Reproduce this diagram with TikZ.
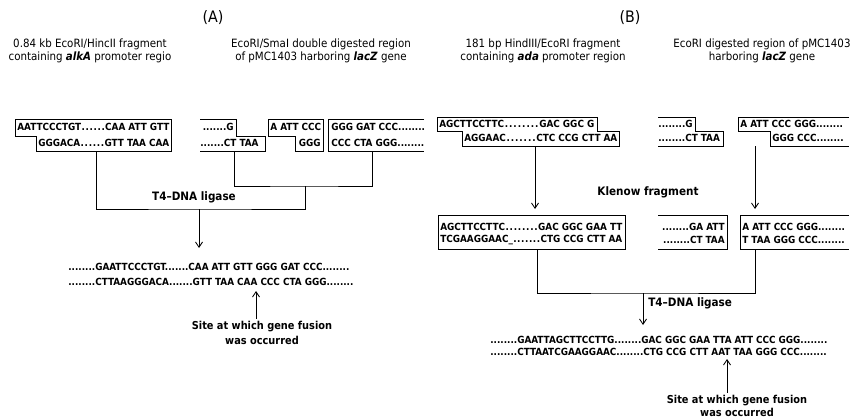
\documentclass[tikz,border=0pt]{standalone}
\usepackage{fontspec}
\setmainfont{DejaVu Sans Condensed}
\usetikzlibrary{arrows.meta}
\newcommand{\seqfont}{\fontsize{5.6}{6}\selectfont\bfseries}
\newcommand{\hdrfont}{\fontsize{6.5}{7.4}\selectfont}
\newcommand{\tagfont}{\fontsize{9}{10}\selectfont}
\newcommand{\stepfont}{\fontsize{6.6}{8}\selectfont\bfseries}
\newcommand{\dotgap}{\xleaders\hbox to 0.4em{\hss.\hss}\hfill}
\newcommand{\seqrow}[3]{\hbox to \dimexpr0.02cm*#1\relax{#2\dotgap #3}}
\tikzset{
  seq/.style={font=\seqfont,inner sep=0pt,anchor=west},
  seqr/.style={seq,anchor=east},
  hdr/.style={font=\hdrfont,inner sep=0pt,align=center},
  stepname/.style={font=\stepfont,inner sep=0pt},
  sitenote/.style={font=\fontsize{6.2}{8.5}\selectfont\bfseries,inner sep=0pt,align=center},
  frag/.style={line width=0.55pt},
  link/.style={line width=0.5pt},
  arr/.style={link,-{Straight Barb[length=3pt,width=4pt]}}
}

\begin{document}
\begin{tikzpicture}[x=0.02cm,y=-0.02cm]
\useasboundingbox (0,0) rectangle (850,419);

% panel A
\node[font=\tagfont,inner sep=0pt] (tagA) at (213,18) {(A)};
\node[hdr] (hdrA1) at (90,50.5) {0.84 kb EcoRI/HincII fragment\\containing \textbf{\textit{alkA}} promoter regio};
\node[hdr] (hdrA2) at (321,50.5) {EcoRI/SmaI double digested region\\of pMC1403 harboring \textbf{\textit{lacZ}} gene};

\draw[frag] (15,119) -- (171,119) -- (171,151) -- (36,151) -- (36,136) -- (15,136) -- cycle;
\node[seq] (a1top) at (17,127) {\seqrow{152}{AATTCCCTGT}{CAA ATT GTT}};
\node[seq] (a1bot) at (38,143) {\seqrow{131}{GGGACA}{GTT TAA CAA}};

\draw[frag] (200,119) -- (236,119) -- (236,136) -- (265,136) -- (265,151) -- (200,151);
\node[seqr] (a2top) at (234,127) {.......G};
\node[seq] (a2bot) at (200,143) {.......CT TAA};

\draw[frag] (268,119) -- (323,119) -- (323,151) -- (295,151) -- (295,136) -- (268,136) -- cycle;
\node[seq] (a3top) at (270,127) {A ATT CCC};
\node[seqr] (a3bot) at (321,143) {GGG};

\draw[frag] (424,119) -- (328,119) -- (328,151) -- (424,151);
\node[seq] (a4top) at (331,127) {GGG GAT CCC........};
\node[seq] (a4bot) at (331,143) {CCC CTA GGG........};

\coordinate (a1low) at (96,151);
\coordinate (a2low) at (234,151);
\coordinate (a4low) at (372,151);
\coordinate (joinA) at (305,186);
\coordinate (midA) at (199,209);
\coordinate (tipA) at (199,248);
\draw[link] (a2low) |- (joinA) -| (a4low);
\draw[link] (a1low) |- (midA) -| (joinA);
\node[stepname] (ligA) at (194,197) {T4--DNA ligase};
\draw[arr] (midA) -- (tipA);

\node[seq] (resA1) at (68,267) {........GAATTCCCTGT.......CAA ATT GTT GGG GAT CCC........};
\node[seq] (resA2) at (68,282) {........CTTAAGGGACA.......GTT TAA CAA CCC CTA GGG........};
\coordinate (siteA) at (256,291);
\node[sitenote] (noteA) at (262,333) {Site at which gene fusion\\was occurred};
\draw[arr] (siteA |- noteA.north) ++(0,-2) -- (siteA);

% panel B
\node[font=\tagfont,inner sep=0pt] (tagB) at (630,18) {(B)};
\node[hdr] (hdrB1) at (543,50.5) {181 bp HindIII/EcoRI fragment\\containing \textbf{\textit{ada}} promoter region};
\node[hdr] (hdrB2) at (762,50.5) {EcoRI digested region of pMC1403\\harboring \textbf{\textit{lacZ}} gene};

\draw[frag] (437,117) -- (597,117) -- (597,131) -- (619,131) -- (619,146) -- (462,146) -- (462,131) -- (437,131) -- cycle;
\node[seq] (b1top) at (439,124) {\seqrow{155}{AGCTTCCTTC}{GAC GGC G}};
\node[seq] (b1bot) at (464,138) {\seqrow{153}{AGGAAC}{CTC CCG CTT AA}};

\draw[frag] (658,117) -- (695,117) -- (695,131) -- (723,131) -- (723,146) -- (658,146);
\node[seqr] (b2top) at (693,124) {........G};
\node[seq] (b2bot) at (658,138) {........CT TAA};

\draw[frag] (849,117) -- (738,117) -- (738,131) -- (770,131) -- (770,146) -- (849,146);
\node[seq] (b3top) at (740,124) {A ATT CCC GGG........};
\node[seq] (b3bot) at (772,138) {GGG CCC........};

\coordinate (b1low) at (535,146);
\coordinate (b3low) at (755,146);
\coordinate (b1tip) at (535,209);
\coordinate (b3tip) at (755,209);
\draw[arr] (b1low) -- (b1tip);
\draw[arr] (b3low) -- (b3tip);
\node[stepname] (klenow) at (648,192) {Klenow fragment};

\draw[frag] (438,215) rectangle (625,249);
\node[seq] (b4top) at (440,227) {\seqrow{182}{AGCTTCCTTC}{GAC GGC GAA TT}};
\node[seq] (b4bot) at (440,240) {\seqrow{182}{TCGAAGGAAC\_}{CTG CCG CTT AA}};

\draw[frag] (658,215) -- (727,215) -- (727,249) -- (658,249);
\node[seqr] (b5top) at (725,227) {........GA ATT};
\node[seqr] (b5bot) at (725,240) {........CT TAA};

\draw[frag] (849,215) -- (740,215) -- (740,249) -- (849,249);
\node[seq] (b6top) at (742,227) {A ATT CCC GGG........};
\node[seq] (b6bot) at (742,240) {T TAA GGG CCC........};

\coordinate (b4low) at (537,249);
\coordinate (b6low) at (755,249);
\coordinate (joinB) at (643,293);
\coordinate (tipB) at (643,325);
\draw[link] (b4low) |- (joinB) -| (b6low);
\draw[arr] (joinB) -- (tipB);
\node[stepname,anchor=west] (ligB) at (648,303) {T4--DNA ligase};

\node[seq] (resB1) at (490,340) {........GAATTAGCTTCCTTG........GAC GGC GAA TTA ATT CCC GGG........};
\node[seq] (resB2) at (490,352) {........CTTAATCGAAGGAAC........CTG CCG CTT AAT TAA GGG CCC........};
\coordinate (siteB) at (727,359);
\node[sitenote,font=\fontsize{6.2}{7.4}\selectfont\bfseries] (noteB) at (737,406) {Site at which gene fusion\\was occurred};
\draw[arr] (siteB |- noteB.north) ++(0,-2) -- (siteB);
\end{tikzpicture}
\end{document}
